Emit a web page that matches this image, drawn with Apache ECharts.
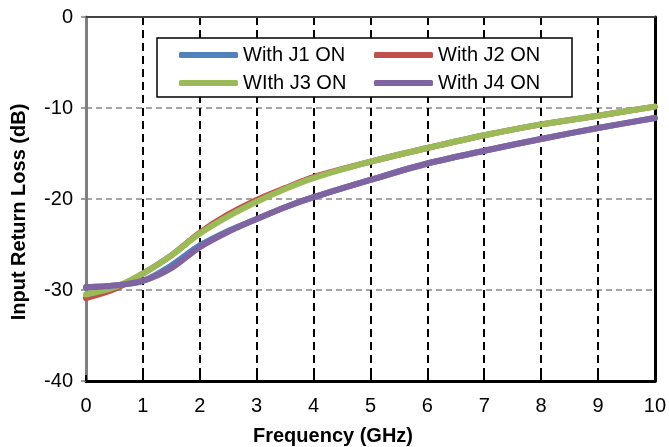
<!DOCTYPE html>
<html>
<head>
<meta charset="utf-8">
<script src="https://cdn.jsdelivr.net/npm/echarts@6/dist/echarts.min.js"></script>
<style>html,body{margin:0;padding:0;background:#fff;}#chart{width:669px;height:447px;}</style>
</head>
<body>
<div id="chart"></div>
<script>
const freq = [0, 0.5, 1, 1.5, 2, 2.5, 3, 3.5, 4, 5, 6, 7, 8, 9, 10];
const j1 = [-29.7, -29.5, -29.0, -27.3, -25.1, -23.5, -22.2, -20.9, -19.8, -17.9, -16.1, -14.7, -13.4, -12.2, -11.1];
const j2 = [-30.9, -29.9, -28.2, -26.2, -23.7, -21.7, -20.1, -18.8, -17.6, -15.9, -14.4, -13.0, -11.8, -10.85, -9.85];
const j3 = [-30.5, -29.7, -28.2, -26.2, -23.8, -21.9, -20.3, -18.9, -17.7, -15.9, -14.4, -13.0, -11.8, -10.85, -9.85];
const j4 = [-29.7, -29.5, -29.0, -27.6, -25.3, -23.6, -22.2, -20.9, -19.8, -17.9, -16.1, -14.7, -13.4, -12.2, -11.1];
const names = ['With J1 ON', 'With J2 ON', 'WIth J3 ON', 'With J4 ON'];
const colors = ['#4F81BD', '#C0504D', '#9BBB59', '#8064A2'];
const xTicks = [0, 1, 2, 3, 4, 5, 6, 7, 8, 9, 10];
const yTicks = [-40, -30, -20, -10, 0];

const font = 'Liberation Sans, Arial, sans-serif';
const pts = arr => freq.map((f, i) => [f, arr[i]]);
const seriesData = [j1, j2, j3, j4];

const chart = echarts.init(document.getElementById('chart'), null, {renderer: 'canvas'});
const legendPos = [[179, 45], [374, 45], [179, 73], [374, 73]];
chart.setOption({
  animation: false,
  backgroundColor: '#fff',
  grid: {left: 86, right: 12, top: 17, bottom: 66},
  xAxis: [{
    type: 'value', min: xTicks[0], max: xTicks[xTicks.length - 1], interval: 1,
    position: 'bottom',
    axisLine: {onZero: false, lineStyle: {color: '#000', width: 3}},
    axisTick: {inside: true, length: 6, lineStyle: {color: '#000', width: 2}},
    axisLabel: {fontSize: 20, color: '#000', fontFamily: font, margin: 15},
    splitLine: {show: true, showMinLine: false, showMaxLine: false,
      lineStyle: {color: '#000', width: 2, type: [8, 5]}}
  }, {
    type: 'value', min: 0, max: 10, position: 'top',
    axisLine: {onZero: false, lineStyle: {color: '#444', width: 2}},
    axisTick: {show: false}, axisLabel: {show: false}, splitLine: {show: false}
  }],
  yAxis: [{
    type: 'value', min: yTicks[0], max: yTicks[yTicks.length - 1], interval: 10,
    position: 'left',
    axisLine: {onZero: false, lineStyle: {color: '#7f7f7f', width: 3}},
    axisTick: {inside: false, length: 5, lineStyle: {color: '#7f7f7f', width: 1.5}},
    axisLabel: {fontSize: 20, color: '#000', fontFamily: font, margin: 13},
    splitLine: {show: true, showMinLine: false, showMaxLine: false,
      lineStyle: {color: '#888', width: 1.5, type: [6, 4]}}
  }, {
    type: 'value', min: -40, max: 0, position: 'right',
    axisLine: {onZero: false, lineStyle: {color: '#000', width: 3}},
    axisTick: {show: false}, axisLabel: {show: false}, splitLine: {show: false}
  }],
  legend: names.map((n, i) => ({
    data: [n], left: legendPos[i][0], top: legendPos[i][1], padding: 0,
    itemWidth: 59, itemHeight: 6, icon: 'roundRect',
    textStyle: {fontSize: 20, color: '#000', fontFamily: font},
    z: 5
  })),
  graphic: [
    {type: 'rect', z: 3, shape: {x: 157, y: 38, width: 415, height: 59},
      style: {fill: '#fff', stroke: '#000', lineWidth: 1.5}},
    {type: 'text', z: 5, x: 19, y: 212, rotation: Math.PI / 2,
      style: {text: 'Input Return Loss (dB)', font: 'bold 20px ' + font, fill: '#000',
        align: 'center', verticalAlign: 'middle'}},
    {type: 'text', z: 5, x: 333, y: 436,
      style: {text: 'Frequency (GHz)', font: 'bold 20px ' + font, fill: '#000',
        align: 'center', verticalAlign: 'middle'}}
  ],
  series: seriesData.map((d, i) => ({
    name: names[i], type: 'line', data: pts(d), smooth: 0.3,
    symbol: 'none', showSymbol: false,
    lineStyle: {color: colors[i], width: 6, cap: 'round'},
    itemStyle: {color: colors[i]},
    z: 2 + i
  }))
});
</script>
</body>
</html>
